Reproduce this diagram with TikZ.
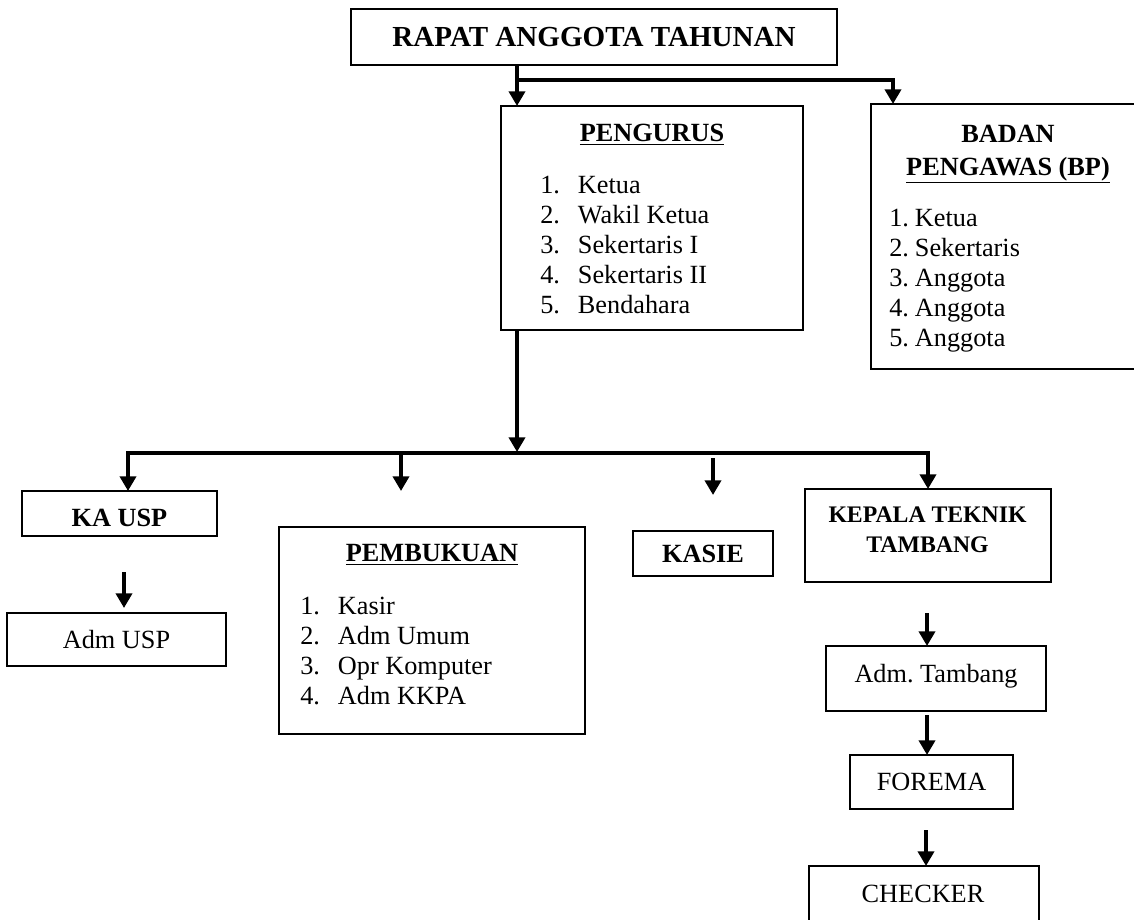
\documentclass[tikz,border=0pt]{standalone}
\usepackage{fontspec}
\setmainfont{Liberation Serif}
\usetikzlibrary{arrows.meta, calc}
\tikzset{
  box/.style={draw, line width=1pt, inner sep=0pt, outer sep=0pt},
  sz/.style 2 args={minimum width=#1*0.75pt, minimum height=#2*0.75pt},
  txt/.style={inner sep=0pt, font=\fontsize{19.7}{22.5}\selectfont, text height=13pt, text depth=0pt},
  head/.style={txt, font=\fontsize{19.7}{22.5}\selectfont\bfseries},
  title/.style={txt, font=\fontsize{21.8}{26}\selectfont\bfseries, text height=14.4pt},
  kep/.style={txt, font=\fontsize{17.8}{22.5}\selectfont\bfseries, text height=11.8pt},
  lst/.style={inner sep=0pt, anchor=west, font=\fontsize{19.7}{22.5}\selectfont},
  link/.style={line width=3pt, line join=miter, -{Triangle[width=12pt,length=11pt]}},
}

\begin{document}
\begin{tikzpicture}[x=0.75pt, y=-0.75pt]
\useasboundingbox (0,0) rectangle (1134,920);
\clip (0,0) rectangle (1134,920);
% the boxes, at pixel positions
\node[box, title, sz={486}{56}] (rapat) at (594,37) {RAPAT ANGGOTA TAHUNAN};

\node[box, sz={302}{224}] (pengurus) at (652,218) {};
\node[head] (penguruslbl) at (652,133) {\underline{PENGURUS}};
\node[lst] (pengurusitems) at (540,247) {\begin{tabular}{@{}l@{\hspace{13.5pt}}l@{}}
1.&Ketua\\2.&Wakil Ketua\\3.&Sekertaris I\\4.&Sekertaris II\\5.&Bendahara\end{tabular}};

\node[box, sz={274}{265}] (bp) at (1008,236.5) {};
\node[head] (bplbl) at (1008,134) {BADAN};
\node[head] (bplbltwo) at (1008,166.5) {\underline{PENGAWAS (BP)}};
\node[lst] (bpitems) at (889,280) {\begin{tabular}{@{}l@{\hspace{4.5pt}}l@{}}
1.&Ketua\\2.&Sekertaris\\3.&Anggota\\4.&Anggota\\5.&Anggota\end{tabular}};

\node[box, sz={195}{45}] (kausp) at (119.5,513.5) {};
\node[head] (kausplbl) at (119.5,518) {KA USP};
\node[box, txt, sz={219}{53}] (admusp) at (116.5,639.5) {Adm USP};

\node[box, sz={306}{207}] (pembukuan) at (432,630.5) {};
\node[head] (pembukuanlbl) at (432,553) {\underline{PEMBUKUAN}};
\node[lst] (pembukuanitems) at (300,653) {\begin{tabular}{@{}l@{\hspace{13.5pt}}l@{}}
1.&Kasir\\2.&Adm Umum\\3.&Opr Komputer\\4.&Adm KKPA\end{tabular}};

\node[box, head, sz={140}{45}] (kasie) at (703,553.5) {KASIE};

\node[box, sz={246}{93}] (kepala) at (928,535.5) {};
\node[kep] (kepalalbl) at (927.5,515) {KEPALA TEKNIK};
\node[kep] (kepalalbltwo) at (927.5,545) {TAMBANG};
\node[box, sz={220}{65}] (admtambang) at (936,678.5) {};
\node[txt] (admtambanglbl) at (936,673.5) {Adm.\ Tambang};
\node[box, txt, sz={163}{54}] (forema) at (931.5,782) {FOREMA};
\node[box, sz={230}{80}] (checker) at (924,906) {};
\node[txt] (checkerlbl) at (923,893.5) {CHECKER};

% branch points of the connectors
\coordinate (ra) at (517,80);
\coordinate (rb) at (893,80);
\coordinate (hub) at (517,452);
\coordinate (bl) at (128,453);
\coordinate (br) at (928,453);
\coordinate (pa) at (401,453);
\coordinate (pb) at (401,491);
\coordinate (ka) at (713,458);
\coordinate (kb) at (713,495);
\coordinate (ua) at (124,572);
\coordinate (ub) at (124,608);
\coordinate (ta) at (927,613);
\coordinate (fa) at (927,715);
\coordinate (ca) at (926,830);

\draw[link] (rapat.south -| ra) -- (pengurus.north -| ra);
\draw[link] (ra) -- (rb) -- (bp.north -| rb);
\draw[link] (pengurus.south -| hub) -- (hub);
\draw[link] (hub |- bl) -- (bl) -- (kausp.north -| bl);
\draw[link] (hub |- br) -- (br) -- (kepala.north -| br);
\draw[link] (pa) -- (pb);
\draw[link] (ka) -- (kb);
\draw[link] (ua) -- (ub);
\draw[link] (ta) -- (admtambang.north -| ta);
\draw[link] (fa) -- (forema.north -| fa);
\draw[link] (ca) -- (checker.north -| ca);
\end{tikzpicture}
\end{document}
